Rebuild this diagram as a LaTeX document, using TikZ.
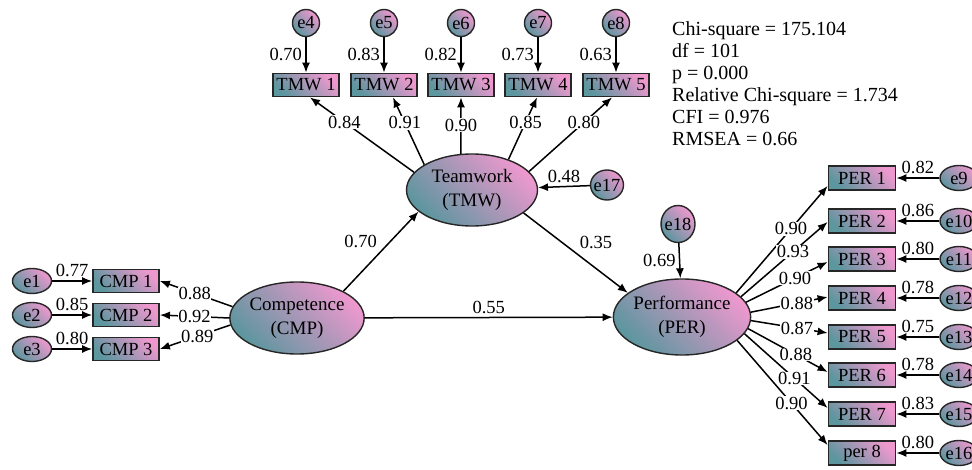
\documentclass[tikz,border=0pt]{standalone}
\usepackage{fontspec}
\setmainfont{Liberation Serif}
\usetikzlibrary{positioning}
\usetikzlibrary{arrows.meta}
\usetikzlibrary{shapes.geometric}
\definecolor{semteal}{RGB}{92,150,158}
\definecolor{sempink}{RGB}{238,152,206}

\begin{document}
\begin{tikzpicture}[x=1pt, y=-1pt,
    every node/.style={font=\fontsize{18.5}{20}\selectfont},
    grad/.style={draw=black!85, bottom color=semteal, top color=sempink, shading angle=-45},
    latent/.style={grad, ellipse, line width=1.4pt, minimum width=131pt, minimum height=72pt,
        inner sep=0pt, align=center, font=\fontsize{19}{24}\selectfont},
    obs/.style={grad, rectangle, line width=1.8pt, minimum width=66pt, minimum height=23pt, inner sep=0pt},
    err/.style={grad, ellipse, line width=1.4pt, inner sep=0pt},
    arr/.style={-{Latex[length=10pt,width=8pt]}, line width=1.5pt},
    coef/.style={fill=white, inner sep=0.5pt}]
    \useasboundingbox (0,0) rectangle (972,470);

    % Teamwork and its indicators
    \node[latent] (TMW) at (472,190) {Teamwork\\(TMW)};
    \foreach \i/\x/\s/\dx/\ev/\lv/\p in {1/306/163/4/0.70/0.84/0.67, 2/384/152/9/0.83/0.91/0.62,
        3/461/107/0/0.82/0.90/0.51, 4/538/40/-1/0.73/0.85/0.6, 5/616/18/-4/0.63/0.80/0.66} {
        \pgfmathtruncatemacro{\n}{\i+3}
        \node[obs] (tmw\i) at (\x,85) {TMW \i};
        \node[err, minimum size=27pt] (e\n) at (\x,23) {e\n};
        \draw[arr] (e\n) -- (tmw\i) node[midway, left] {\ev};
        \draw[arr] (TMW.\s) -- ([xshift=\dx pt]tmw\i.south) node[coef, pos=\p] {\lv};
    }
    \node[err, minimum width=33pt, minimum height=30pt, inner xsep=-2pt] (e17) at (607,185) {e17};
    \draw[arr] (e17) -- (TMW) node[midway, above] {0.48};

    % Competence and its indicators
    \node[latent] (CMP) at (297,318) {Competence\\(CMP)};
    \foreach \i/\y/\s/\ev/\lv/\p in {1/281/170/0.77/0.88/0.52, 2/315/180/0.85/0.92/0.5, 3/349/186/0.80/0.89/0.47} {
        \node[obs] (cmp\i) at (126,\y) {CMP \i};
        \node[err, minimum width=39pt, minimum height=25pt] (e\i) at (32,\y) {e\i};
        \draw[arr] (e\i) -- (cmp\i) node[midway, above] {\ev};
        \draw[arr] (CMP.\s) -- (cmp\i.east) node[coef, pos=\p] {\lv};
    }

    % Performance and its indicators
    \node[latent, minimum width=132pt, minimum height=76pt] (PER) at (682,317) {Performance\\(PER)};
    \foreach \i/\y/\txt/\s/\dy/\ev/\lv in {1/178/PER 1/24/-8/0.82/0.90, 2/221/PER 2/19/-1/0.86/0.93,
        3/259/PER 3/13/-3/0.80/0.90, 4/298/PER 4/4/1/0.78/0.88, 5/337/PER 5/-3/4/0.75/0.87,
        6/375/PER 6/-10/3/0.78/0.88, 7/414/PER 7/-15/6/0.83/0.91, 8/453/per 8/-23/8/0.80/0.90} {
        \pgfmathtruncatemacro{\n}{\i+8}
        \node[obs, minimum width=67pt, minimum height=24pt] (per\i) at (862,\y) {\txt};
        \node[err, minimum width=38pt, minimum height=25pt, inner xsep=-2pt] (e\n) at (959,\y) {e\n};
        \draw[arr] (e\n) -- (per\i) node[midway, above] {\ev};
        \draw[arr] (PER.\s) -- ([yshift=\dy pt]per\i.west) node[coef, pos=0.6] {\lv};
    }
    \node[err, minimum width=34pt, minimum height=37pt, inner xsep=-2pt] (e18) at (678,224) {e18};
    \draw[arr] (e18) -- (PER) node[midway, left] {0.69};

    % Structural paths
    \draw[arr] (CMP.30) -- (TMW.202) node[midway, above left] {0.70};
    \draw[arr] (TMW.-24) -- (PER.156) node[midway, above right] {0.35};
    \draw[arr] (CMP) -- (PER) node[midway, above] {0.55};

    % Fit indices
    \node[anchor=north west, align=left, inner sep=0pt, font=\fontsize{20}{22}\selectfont] (fit) at (672,21)
        {Chi-square = 175.104\\df = 101\\p = 0.000\\Relative Chi-square = 1.734\\CFI = 0.976\\RMSEA = 0.66};
\end{tikzpicture}
\end{document}
